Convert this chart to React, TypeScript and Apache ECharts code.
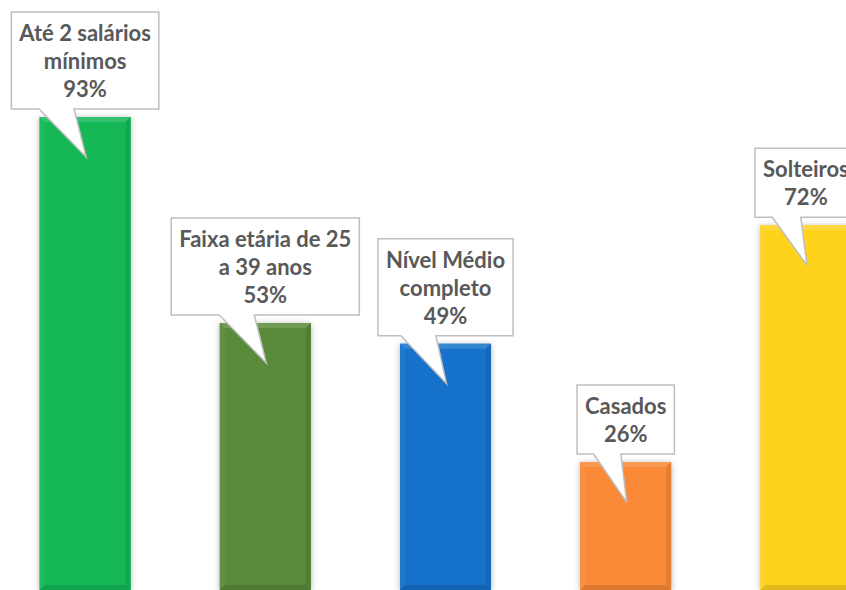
import React, { useEffect, useRef } from "react";
import * as echarts from "echarts";

const categories = [
  "Até 2 salários\nmínimos",
  "Faixa etária de 25\na 39 anos",
  "Nível Médio\ncompleto",
  "Casados",
  "Solteiros",
];
const values = [93, 53, 49, 26, 72];
const barColors = ["#12B856", "#5A8B3A", "#1572CA", "#FA8A38", "#FFD21F"];

const FONT = "700 22px Lato";

function mix(hex: string, target: number, t: number): string {
  const n = parseInt(hex.slice(1), 16);
  const r = (n >> 16) & 255, g = (n >> 8) & 255, b = n & 255;
  const f = (c: number) => Math.round(c + (target - c) * t);
  return `rgb(${f(r)},${f(g)},${f(b)})`;
}

let measureCtx: CanvasRenderingContext2D | null = null;
function textWidth(s: string): number {
  if (!measureCtx) {
    measureCtx = document.createElement("canvas").getContext("2d");
  }
  if (!measureCtx) return s.length * 10;
  measureCtx.font = FONT;
  return measureCtx.measureText(s).width;
}

export default function App() {
  const ref = useRef<HTMLDivElement>(null);
  useEffect(() => {
    if (!ref.current) return;
    const chart = echarts.init(ref.current, undefined, { renderer: "svg" });
    const renderItem = (params: any, api: any) => {
      const i = api.value(0);
      const v = api.value(1);
      const top = api.coord([i, v]);
      const zero = api.coord([i, 0]);
      const band = api.size([1, 0])[0];
      const bw = band * 0.505;
      const cx = top[0];
      const x0 = cx - bw / 2;
      const x1 = cx + bw / 2;
      const y0 = top[1];
      const y1 = Math.min(zero[1], api.getHeight());
      const bv = 5;
      const col = barColors[i];
      const text = categories[i] + "\n" + v + "%";
      const lines = text.split("\n");
      const lh = 28;
      const maxW = Math.max(...lines.map(textWidth));
      const w = maxW + 16;
      const h = lines.length * lh + 13;
      const B = y0 - 8;
      const T = B - h;
      const L = cx - w / 2;
      const R = cx + w / 2;
      const bL = cx - Math.min(46, 0.33 * w);
      const bR = bL + Math.min(35, 0.28 * w);
      const tipX = cx + 1;
      const tipY = y0 + 40;
      return {
        type: "group",
        children: [
          {
            type: "rect",
            shape: { x: x0, y: y0, width: bw, height: y1 - y0 },
            style: {
              fill: col,
              shadowBlur: 6,
              shadowColor: "rgba(0,0,0,0.3)",
              shadowOffsetX: 0,
              shadowOffsetY: 1,
            },
          },
          {
            type: "polygon",
            shape: { points: [[x0, y0], [x1, y0], [x1 - bv, y0 + bv], [x0 + bv, y0 + bv]] },
            style: { fill: mix(col, 255, 0.14) },
          },
          {
            type: "polygon",
            shape: { points: [[x0, y0], [x0 + bv, y0 + bv], [x0 + bv, y1 - bv], [x0, y1]] },
            style: { fill: mix(col, 255, 0.05) },
          },
          {
            type: "polygon",
            shape: { points: [[x1, y0], [x1 - bv, y0 + bv], [x1 - bv, y1 - bv], [x1, y1]] },
            style: { fill: mix(col, 0, 0.09) },
          },
          {
            type: "polygon",
            shape: { points: [[x0, y1], [x0 + bv, y1 - bv], [x1 - bv, y1 - bv], [x1, y1]] },
            style: { fill: mix(col, 0, 0.12) },
          },
          {
            type: "polygon",
            shape: {
              points: [
                [L, T], [R, T], [R, B], [bR, B], [tipX, tipY], [bL, B], [L, B],
              ],
            },
            style: { fill: "#FFFFFF", stroke: "#BFBFBF", lineWidth: 1.5 },
          },
          {
            type: "text",
            style: {
              text,
              x: cx,
              y: (T + B) / 2,
              align: "center",
              verticalAlign: "middle",
              font: FONT,
              lineHeight: lh,
              fill: "#595959",
            },
          },
        ],
      };
    };
    chart.setOption({
      animation: false,
      grid: {
        left: -5,
        width: 901,
        top: 81,
        height: 515,
        containLabel: false,
        outerBoundsMode: "none",
      },
      xAxis: { type: "category", data: categories, show: false },
      yAxis: { type: "value", min: 0, max: 100, show: false },
      series: [
        {
          type: "custom",
          renderItem,
          clip: false,
          data: values.map((v, i) => [i, v]),
          encode: { x: 0, y: 1 },
        },
      ],
    });
    return () => chart.dispose();
  }, []);
  return (
    <div
      ref={ref}
      style={{ position: "fixed", left: 0, top: 0, width: 846, height: 590, background: "#fff" }}
    />
  );
}
